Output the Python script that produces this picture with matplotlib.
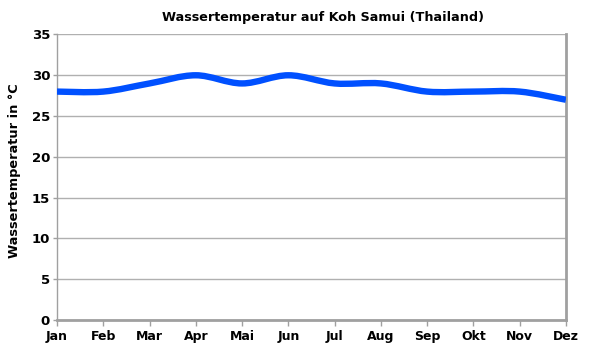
import matplotlib
matplotlib.use("Agg")
import matplotlib.pyplot as plt
from matplotlib.path import Path
from matplotlib.patches import PathPatch
import numpy as np

months = ["Jan", "Feb", "Mar", "Apr", "Mai", "Jun", "Jul", "Aug", "Sep", "Okt", "Nov", "Dez"]
temps = [28, 28, 29, 30, 29, 30, 29, 29, 28, 28, 28, 27]
yticks = [0, 5, 10, 15, 20, 25, 30, 35]

plt.rcParams['font.family'] = ['DejaVu Sans']
plt.rcParams['font.weight'] = 'bold'

fig = plt.figure(figsize=(5.89, 3.57), dpi=100)
ax = fig.add_axes([0.0968, 0.1036, 0.864, 0.7998])

x = np.arange(len(months))
y = np.array(temps, dtype=float)

# Smooth curve via Catmull-Rom -> Bezier segments (drawn by matplotlib Path)
verts = [(x[0], y[0])]
codes = [Path.MOVETO]
n = len(x)
for i in range(n - 1):
    p0 = (x[max(i - 1, 0)], y[max(i - 1, 0)])
    p1 = (x[i], y[i])
    p2 = (x[i + 1], y[i + 1])
    p3 = (x[min(i + 2, n - 1)], y[min(i + 2, n - 1)])
    t = 1 / 6
    c1 = (p1[0] + (p2[0] - p0[0]) * t, p1[1] + (p2[1] - p0[1]) * t)
    c2 = (p2[0] - (p3[0] - p1[0]) * t, p2[1] - (p3[1] - p1[1]) * t)
    verts += [c1, c2, p2]
    codes += [Path.CURVE4] * 3
patch = PathPatch(Path(verts, codes), facecolor='none', edgecolor='#0050ff',
                  lw=4.6, capstyle='butt', joinstyle='round', zorder=3)
ax.add_patch(patch)

ax.set_xlim(0, n - 1)
ax.set_ylim(0, 35)
ax.set_xticks(x)
ax.set_xticklabels(months, fontsize=9, fontweight='bold')
ax.set_yticks(yticks)
ax.set_yticklabels([str(v) for v in yticks], fontsize=9.5, fontweight='bold')
ax.grid(axis='y', color='#b0b0b0', lw=1)
ax.set_axisbelow(True)
ax.tick_params(axis='x', length=4, width=1, color='#a0a0a0', pad=3)
ax.tick_params(axis='y', length=3, width=1, color='#a0a0a0', pad=2)
for s in ['left']:
    ax.spines[s].set_color('#a0a0a0'); ax.spines[s].set_linewidth(1)
for s in ['bottom', 'right']:
    ax.spines[s].set_color('#a0a0a0'); ax.spines[s].set_linewidth(2)
ax.spines['top'].set_visible(False)

ax.set_ylabel("Wassertemperatur in °C", fontsize=9.3, fontweight='bold')
ax.yaxis.set_label_coords(-0.071, 0.524)
ax.set_title("Wassertemperatur auf Koh Samui (Thailand)", fontsize=9.2, fontweight='bold',
             pad=10, x=0.523)

fig.savefig("out.png", dpi=100)
